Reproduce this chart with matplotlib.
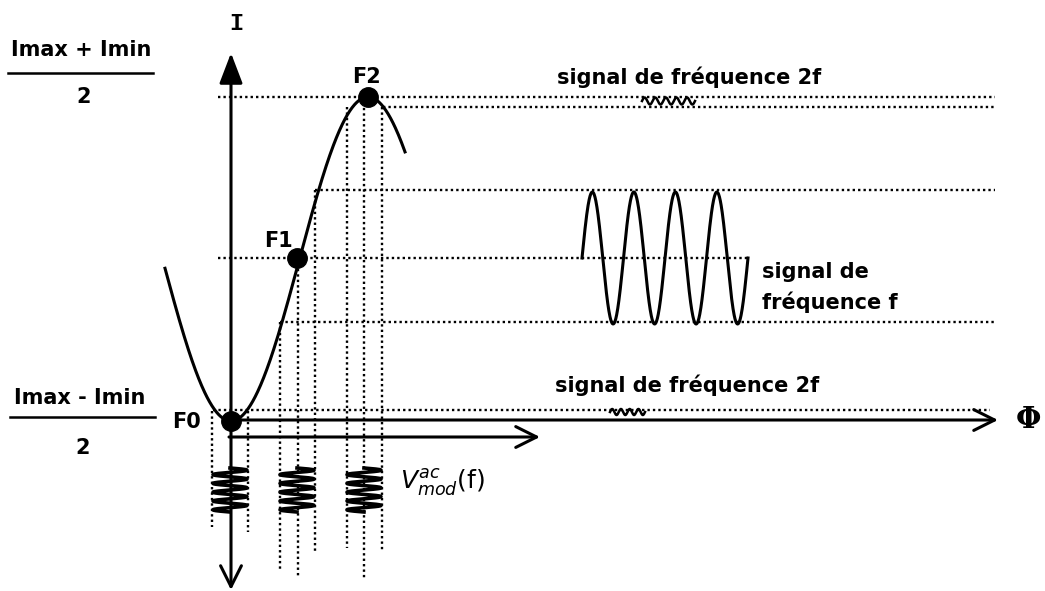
import numpy as np
import matplotlib.pyplot as plt

# ---- caractéristique I(Phi), repère en pixels du schéma (y vers le bas) ----
phi_F0 = 231            # minimum de la courbe
phi_F2 = 368            # maximum de la courbe
niveau_min = 421        # I au minimum (sur l'axe Phi)
niveau_max = 97         # I au maximum
courbe_phi = [165, 405] # étendue tracée de la courbe

# points de fonctionnement
points_nom = ['F0', 'F1', 'F2']
points_phi = [231, 297, 368]
points_I = [421, 258, 97]
points_label_x = [186, 278, 366]
points_label_y = [422, 241, 77]

# lignes pointillées horizontales : niveau, début, fin
horiz_y = [97, 107, 190, 258, 322, 410]
horiz_x0 = [218, 383, 315, 218, 280, 213]
horiz_x1 = [995, 995, 995, 750, 995, 990]

# lignes pointillées verticales : position, haut, bas
vert_x = [212, 248, 280, 298, 315, 347, 364, 382]
vert_y0 = [411, 411, 322, 258, 190, 107, 97, 107]
vert_y1 = [527, 532, 570, 577, 552, 548, 580, 551]

# modulation V_mod appliquée autour de chaque point (zigzags)
mod_centres = [230, 297, 364]
mod_demi_largeur = 17
mod_y = [468, 512]
mod_periodes = 5

# signal de fréquence f (sortie autour de F1)
sig_x = [582, 748]
sig_centre = 258
sig_amplitude = 66
sig_periodes = 4

# petits signaux de fréquence 2f (autour de F0 et F2)
s2f_x0 = [642, 610]
s2f_x1 = [695, 645]
s2f_centre = [101, 412]
s2f_amplitude = [3.5, 3.0]
s2f_periodes = [5, 4]

NOIR = 'black'
POINTILLE = (0, (1, 1.3))
police = 'DejaVu Sans'
taille = 15


def fleche(ax, debut, fin, style, echelle):
    ax.annotate('', xy=fin, xytext=debut,
                arrowprops=dict(arrowstyle=style, lw=2.2, color=NOIR,
                                shrinkA=0, shrinkB=0, mutation_scale=echelle))


fig = plt.figure(figsize=(10.45, 5.91), dpi=100)
ax = fig.add_axes([0, 0, 1, 1])
ax.set_xlim(0, 1045)
ax.set_ylim(591, 0)
ax.axis('off')

# pointillés
for y, x0, x1 in zip(horiz_y, horiz_x0, horiz_x1):
    ax.plot([x0, x1], [y, y], color=NOIR, lw=1.7, ls=POINTILLE)
for x, y0, y1 in zip(vert_x, vert_y0, vert_y1):
    ax.plot([x, x], [y0, y1], color=NOIR, lw=1.7, ls=POINTILLE)

# axes
fleche(ax, (231, 421), (231, 53), '-|>,head_length=1.1,head_width=0.42', 17)
fleche(ax, (231, 421), (231, 590), '->,head_length=1.0,head_width=0.5', 15)
fleche(ax, (229, 420), (998, 420), '->,head_length=1.0,head_width=0.5', 15)
fleche(ax, (229, 437), (540, 437), '->,head_length=1.0,head_width=0.5', 15)

# courbe I(Phi)
phi = np.linspace(courbe_phi[0], courbe_phi[1], 400)
milieu = (niveau_min + niveau_max) / 2
ampl = (niveau_min - niveau_max) / 2
I = milieu + ampl * np.cos(np.pi * (phi - phi_F0) / (phi_F2 - phi_F0))
ax.plot(phi, I, color=NOIR, lw=2.2)

# points de fonctionnement
ax.plot(points_phi, points_I, 'o', color=NOIR, ms=14)
for nom, x, y in zip(points_nom, points_label_x, points_label_y):
    ax.text(x, y, nom, fontsize=taille, fontweight='bold', family=police,
            ha='center', va='center')

# zigzags de modulation
ym = np.linspace(mod_y[0], mod_y[1], 500)
for c in mod_centres:
    xm = c + mod_demi_largeur * np.sin(2 * np.pi * mod_periodes * (ym - mod_y[0]) / (mod_y[1] - mod_y[0]))
    ax.plot(xm, ym, color=NOIR, lw=2.6)

# signal de fréquence f
xs = np.linspace(sig_x[0], sig_x[1], 600)
ys = sig_centre - sig_amplitude * np.sin(2 * np.pi * sig_periodes * (xs - sig_x[0]) / (sig_x[1] - sig_x[0]))
ax.plot(xs, ys, color=NOIR, lw=2.2)

# signaux 2f
for x0, x1, yc, a, n in zip(s2f_x0, s2f_x1, s2f_centre, s2f_amplitude, s2f_periodes):
    xw = np.linspace(x0, x1, 200)
    ax.plot(xw, yc - a * np.sin(2 * np.pi * n * (xw - x0) / (x1 - x0)), color=NOIR, lw=1.8)

# textes
ax.text(557, 77, 'signal de fréquence 2f', fontsize=taille, fontweight='bold', family=police, va='center')
ax.text(555, 385, 'signal de fréquence 2f', fontsize=taille, fontweight='bold', family=police, va='center')
ax.text(762, 272, 'signal de', fontsize=taille, fontweight='bold', family=police, va='center')
ax.text(762, 302, 'fréquence f', fontsize=taille, fontweight='bold', family=police, va='center')
ax.text(400, 482, r'$V^{ac}_{mod}$(f)', fontsize=18, family=police, va='center')

# fractions à gauche
ax.text(81, 50, 'Imax + Imin', fontsize=taille, fontweight='bold', family=police, ha='center', va='center')
ax.plot([8, 153], [73, 73], color=NOIR, lw=1.8)
ax.text(84, 97, '2', fontsize=taille, fontweight='bold', family=police, ha='center', va='center')
ax.text(80, 398, 'Imax - Imin', fontsize=taille, fontweight='bold', family=police, ha='center', va='center')
ax.plot([10, 155], [417, 417], color=NOIR, lw=1.8)
ax.text(83, 448, '2', fontsize=taille, fontweight='bold', family=police, ha='center', va='center')

# noms des axes
ax.text(236, 23, 'I', fontsize=17, fontweight='bold', family='Liberation Mono', ha='center', va='center')
ax.text(1028, 419, 'Φ', fontsize=21, fontweight='bold', family='DejaVu Serif', ha='center', va='center')

fig.savefig('out.png', dpi=100)
